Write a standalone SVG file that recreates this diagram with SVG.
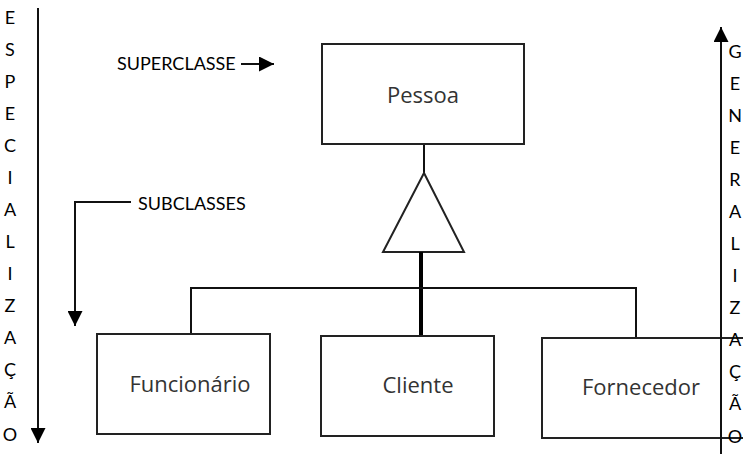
<svg xmlns="http://www.w3.org/2000/svg" width="743" height="454" viewBox="0 0 743 454">
  <style>
    .lbl { font-family: Lato, "Liberation Sans", sans-serif; font-size: 18px; fill: #000; }
    .col { font-family: Lato, "Liberation Sans", sans-serif; font-size: 18px; fill: #000; text-anchor: middle; }
    .cls { font-family: "Open Sans", "Liberation Sans", sans-serif; font-size: 22px; fill: #333; text-anchor: middle; }
    .box { fill: #fff; stroke: #222; stroke-width: 2; }
    .ln { fill: none; stroke: #111; stroke-width: 2; }
  </style>
  <defs>
    <marker id="head" viewBox="0 0 10 10" refX="10" refY="5" markerWidth="7.5" markerHeight="7.5" markerUnits="strokeWidth" orient="auto">
      <path d="M0,0 L10,5 L0,10 Z" fill="#000"/>
    </marker>
  </defs>
  <rect width="743" height="454" fill="#fff"/>

  <!-- side axis: ESPECIALIZAÇÃO (downwards) -->
  <g id="axis-especializacao">
    <line x1="38" y1="8" x2="38" y2="443" class="ln" marker-end="url(#head)"/>
    <text class="col" x="10" y="24">E</text>
    <text class="col" x="10" y="56">S</text>
    <text class="col" x="10" y="88">P</text>
    <text class="col" x="10" y="120">E</text>
    <text class="col" x="10" y="152">C</text>
    <text class="col" x="10" y="184">I</text>
    <text class="col" x="10" y="216">A</text>
    <text class="col" x="10" y="248">L</text>
    <text class="col" x="10" y="280">I</text>
    <text class="col" x="10" y="312">Z</text>
    <text class="col" x="10" y="344">A</text>
    <text class="col" x="10" y="376">Ç</text>
    <text class="col" x="10" y="408">Ã</text>
    <text class="col" x="10" y="441">O</text>
  </g>

  <!-- annotations -->
  <g id="label-superclasse">
    <text class="lbl" x="117" y="70">SUPERCLASSE</text>
    <line x1="241" y1="64" x2="274" y2="64" class="ln" marker-end="url(#head)"/>
  </g>
  <g id="label-subclasses">
    <text class="lbl" x="138" y="210">SUBCLASSES</text>
    <polyline points="131,202 75,202 75,326" class="ln" marker-end="url(#head)"/>
  </g>

  <!-- connectors -->
  <g id="connectors">
    <line x1="424" y1="144" x2="424" y2="173" class="ln"/>
    <polygon points="424,173 383,252 464,252" class="box"/>
    <line x1="421" y1="252" x2="421" y2="336" stroke="#000" stroke-width="4"/>
    <polyline points="191,334 191,288 636,288 636,338" class="ln"/>
  </g>

  <!-- classes -->
  <g id="node-pessoa">
    <rect x="322" y="44" width="202" height="100" class="box"/>
    <text class="cls" x="423" y="103">Pessoa</text>
  </g>
  <g id="node-funcionario">
    <rect x="97" y="334" width="173" height="100" class="box"/>
    <text class="cls" x="190" y="392">Funcionário</text>
  </g>
  <g id="node-cliente">
    <rect x="321" y="336" width="173" height="100" class="box"/>
    <text class="cls" x="418" y="393">Cliente</text>
  </g>
  <g id="node-fornecedor">
    <rect x="542" y="338" width="210" height="100" class="box"/>
    <text class="cls" x="641" y="395">Fornecedor</text>
  </g>

  <!-- side axis: GENERALIZAÇÃO (upwards), drawn over the last class box -->
  <g id="axis-generalizacao">
    <line x1="721" y1="454" x2="721" y2="27" class="ln" marker-end="url(#head)"/>
    <text class="col" x="735" y="58">G</text>
    <text class="col" x="735" y="90">E</text>
    <text class="col" x="735" y="122">N</text>
    <text class="col" x="735" y="154">E</text>
    <text class="col" x="735" y="186">R</text>
    <text class="col" x="735" y="218">A</text>
    <text class="col" x="735" y="250">L</text>
    <text class="col" x="735" y="282">I</text>
    <text class="col" x="735" y="314">Z</text>
    <text class="col" x="735" y="346">A</text>
    <text class="col" x="735" y="378">Ç</text>
    <text class="col" x="735" y="410">Ã</text>
    <text class="col" x="735" y="443">O</text>
  </g>
</svg>
